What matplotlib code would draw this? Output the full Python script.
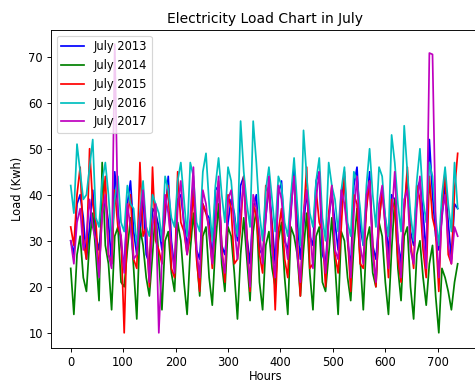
import numpy as np
import matplotlib
matplotlib.use("Agg")
import matplotlib.pyplot as plt

# readings every 6 hours (0, 6, 12, 18 h of each day), 31 days of July
hours = np.arange(0, 744, 6)

load_2013 = [30, 27, 38, 40, 35, 26, 33, 41, 31, 28, 36, 39, 34, 25, 45, 37,
             29, 24, 38, 43, 32, 27, 31, 40, 27, 25, 37, 36, 33, 28, 35, 44,
             30, 24, 39, 40, 34, 29, 33, 43, 28, 26, 38, 36, 35, 25, 41, 42,
             29, 27, 34, 39, 36, 30, 42, 44, 31, 25, 37, 40, 28, 27, 35, 42,
             34, 25, 40, 43, 30, 28, 36, 46, 35, 26, 33, 41, 31, 29, 43, 45,
             27, 25, 35, 40, 34, 28, 39, 44, 30, 24, 42, 46, 33, 29, 37, 45,
             29, 26, 34, 41, 35, 27, 40, 39, 30, 25, 37, 44, 32, 29, 41, 43,
             36, 27, 52, 40, 31, 28, 35, 42, 34, 26, 38, 37]

load_2014 = [24, 14, 27, 31, 22, 19, 30, 36, 27, 17, 47, 29, 25, 15, 31, 33,
             21, 20, 28, 35, 24, 13, 33, 29, 22, 18, 27, 37, 26, 15, 30, 32,
             23, 19, 34, 30, 21, 14, 28, 36, 27, 18, 31, 33, 22, 16, 29, 38,
             25, 19, 33, 31, 23, 13, 27, 35, 26, 17, 32, 37, 21, 15, 29, 32,
             24, 20, 30, 34, 22, 14, 33, 31, 27, 18, 28, 36, 23, 15, 31, 33,
             21, 19, 27, 35, 25, 14, 32, 30, 22, 17, 29, 37, 26, 15, 30, 33,
             23, 20, 34, 31, 21, 14, 28, 39, 24, 17, 31, 33, 20, 13, 27, 30,
             22, 16, 25, 29, 18, 10, 24, 22, 19, 15, 21, 25]

load_2015 = [33, 29, 40, 46, 30, 26, 50, 38, 34, 23, 36, 44, 27, 25, 41, 33,
             31, 10, 35, 40, 26, 24, 47, 31, 33, 20, 46, 30, 28, 25, 37, 42,
             24, 22, 45, 34, 32, 27, 31, 41, 26, 19, 38, 36, 33, 24, 34, 43,
             29, 21, 40, 37, 25, 26, 33, 44, 31, 19, 38, 35, 27, 23, 42, 40,
             33, 15, 32, 37, 26, 22, 39, 44, 30, 18, 35, 46, 24, 25, 41, 34,
             32, 20, 36, 42, 27, 23, 33, 45, 31, 19, 40, 38, 25, 24, 37, 43,
             29, 20, 34, 41, 33, 22, 39, 37, 26, 21, 36, 46, 30, 24, 42, 39,
             28, 22, 44, 35, 32, 19, 38, 45, 27, 25, 41, 49]

load_2016 = [42, 36, 51, 45, 39, 40, 46, 52, 35, 33, 43, 47, 40, 30, 39, 44,
             34, 32, 42, 38, 37, 29, 36, 43, 33, 31, 40, 38, 36, 30, 44, 41,
             35, 33, 43, 47, 39, 31, 47, 44, 34, 32, 45, 49, 38, 30, 42, 48,
             40, 34, 46, 43, 35, 31, 56, 45, 38, 33, 56, 47, 36, 30, 41, 46,
             39, 32, 44, 42, 34, 31, 40, 48, 38, 29, 54, 44, 36, 33, 43, 48,
             35, 30, 47, 42, 39, 32, 41, 46, 34, 31, 45, 43, 37, 29, 42, 50,
             40, 33, 46, 44, 35, 31, 53, 47, 38, 32, 55, 45, 36, 30, 43, 50,
             39, 34, 47, 44, 35, 29, 40, 46, 38, 32, 47, 37]

load_2017 = [30, 25, 34, 37, 28, 31, 39, 33, 30, 22, 36, 40, 27, 24, 72.7, 35,
             31, 23, 38, 33, 26, 27, 35, 41, 32, 21, 33, 38, 10, 26, 40, 36,
             29, 23, 37, 43, 33, 27, 35, 46, 28, 22, 41, 38, 31, 25, 34, 44,
             27, 23, 39, 41, 33, 26, 36, 43, 29, 20, 40, 37, 32, 25, 35, 44,
             28, 22, 42, 39, 31, 26, 37, 44, 27, 21, 36, 41, 33, 24, 39, 45,
             30, 23, 34, 42, 28, 26, 41, 38, 32, 22, 36, 44, 29, 25, 40, 43,
             27, 21, 38, 42, 33, 24, 35, 45, 30, 22, 39, 41, 28, 25, 37, 44,
             31, 24, 70.8, 70.5, 34, 22, 36, 40, 29, 25, 33, 31]

series = [("July 2013", load_2013, "b"),
          ("July 2014", load_2014, "g"),
          ("July 2015", load_2015, "r"),
          ("July 2016", load_2016, "c"),
          ("July 2017", load_2017, "m")]

dpi = 83
fig = plt.figure(figsize=(475 / dpi, 385 / dpi), dpi=dpi)
# the source image is cropped on the right, so the axes run past the edge
ax = fig.add_axes([51 / 475, 37 / 385, 428.7 / 475, 318 / 385])

for label, values, color in series:
    ax.plot(hours, values, color=color, label=label)

ax.set_xlim(-37.6, 780)
ax.set_ylim(6.7, 75.8)
ax.set_title("Electricity Load Chart in July")
ax.set_xlabel("Hours", labelpad=1)
ax.set_ylabel("Load (Kwh)")
ax.legend(loc="upper left")

fig.savefig("out.png", dpi=dpi)
